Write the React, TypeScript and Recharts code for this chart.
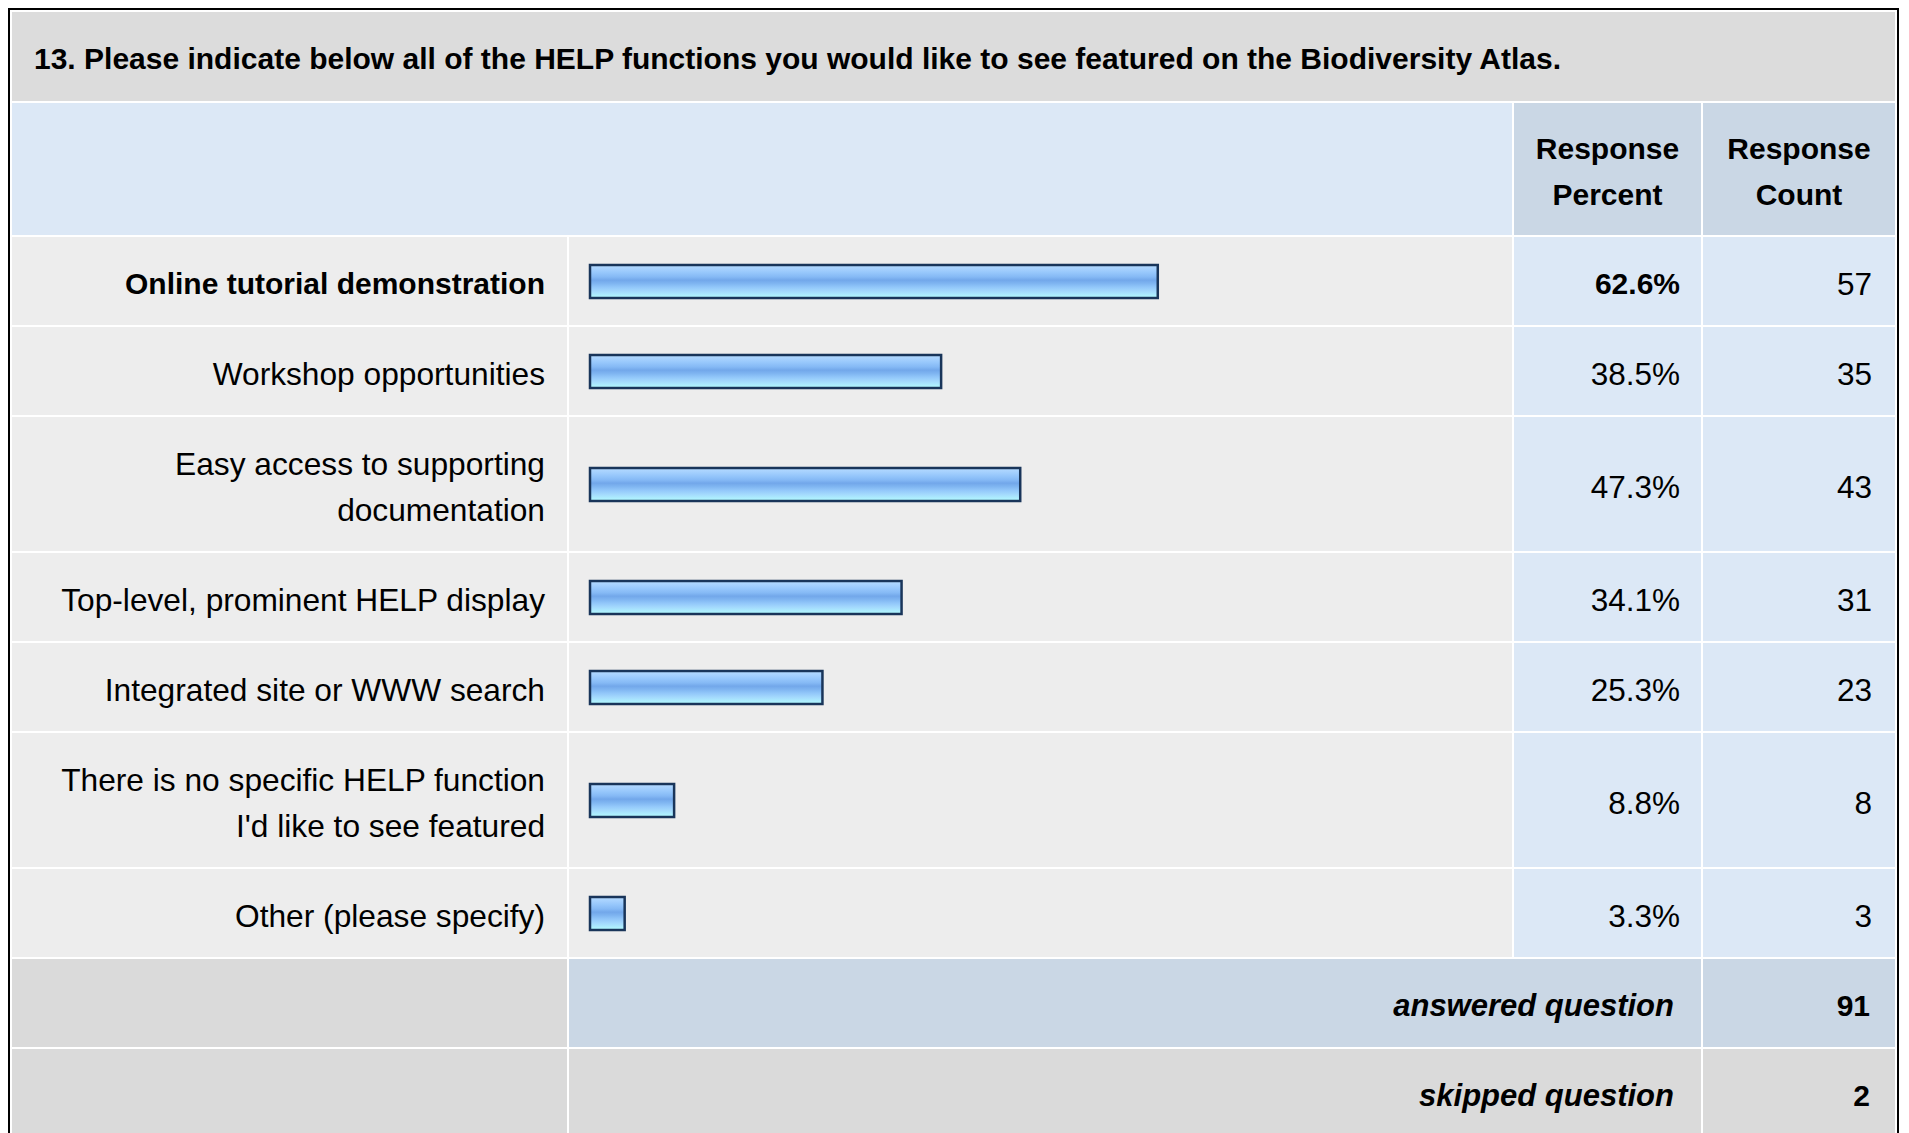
import React from "react";
import { BarChart, Bar, XAxis, YAxis } from "recharts";

const title =
  "13. Please indicate below all of the HELP functions you would like to see featured on the Biodiversity Atlas.";
const headerPercent = ["Response", "Percent"];
const headerCount = ["Response", "Count"];
const categories = [
  "Online tutorial demonstration",
  "Workshop opportunities",
  "Easy access to supporting\ndocumentation",
  "Top-level, prominent HELP display",
  "Integrated site or WWW search",
  "There is no specific HELP function\nI'd like to see featured",
  "Other (please specify)",
];
const percents = [62.6, 38.5, 47.3, 34.1, 25.3, 8.8, 3.3];
const counts = [57, 35, 43, 31, 23, 8, 3];
const answeredLabel = "answered question";
const answeredCount = 91;
const skippedLabel = "skipped question";
const skippedCount = 2;

const FONT = '"Liberation Sans", Arial, Helvetica, sans-serif';
const COLS = [555, 943, 187, 192];
const maxIdx = percents.indexOf(Math.max(...percents));

const C = {
  title: "#dcdcdc",
  headLight: "#dce8f6",
  headDark: "#cad7e5",
  body: "#ededed",
  bodyBlue: "#dce8f6",
  foot: "#dadada",
};

function rowHeight(label: string) {
  return label.includes("\n") ? 134 : 88;
}

const BAR_LEAD = 5;

function GradBar(props: any) {
  const { x, y, width, height, gid } = props;
  if (x == null || y == null) return null;
  return (
    <rect
      x={x - BAR_LEAD}
      y={y}
      width={Math.max(0, width + BAR_LEAD)}
      height={height}
      fill={`url(#${gid})`}
      stroke="#19355a"
      strokeWidth={2.5}
    />
  );
}

function BarCell({ idx, h }: { idx: number; h: number }) {
  const data = [{ name: categories[idx], value: percents[idx] }];
  const gid = `barGrad${idx}`;
  return (
    <BarChart
      width={COLS[1]}
      height={h}
      data={data}
      layout="vertical"
      margin={{ top: 0, right: 18, bottom: 0, left: 26 }}
    >
      <defs>
        <linearGradient id={gid} x1="0" y1="0" x2="0" y2="1">
          <stop offset="0%" stopColor="#b6dbff" />
          <stop offset="12%" stopColor="#a6d1fe" />
          <stop offset="24%" stopColor="#95c6fb" />
          <stop offset="36%" stopColor="#85b9f5" />
          <stop offset="46%" stopColor="#72a7ea" />
          <stop offset="56%" stopColor="#7fb5f1" />
          <stop offset="68%" stopColor="#93c8fa" />
          <stop offset="80%" stopColor="#a4dafd" />
          <stop offset="100%" stopColor="#b4fdff" />
        </linearGradient>
      </defs>
      <XAxis type="number" domain={[0, 100]} hide />
      <YAxis type="category" dataKey="name" hide />
      <Bar
        dataKey="value"
        barSize={33}
        fill={`url(#${gid})`}
        isAnimationActive={false}
        shape={(p: any) => <GradBar {...p} gid={gid} />}
      />
    </BarChart>
  );
}

const cellBase: React.CSSProperties = {
  display: "flex",
  alignItems: "center",
  boxSizing: "border-box",
  lineHeight: "46px",
  color: "#000",
  overflow: "hidden",
};

const textCell: React.CSSProperties = { ...cellBase, paddingTop: 5 };

export default function App() {
  const rowHeights = categories.map(rowHeight);
  const gridRows = [89, 132, ...rowHeights, 88, 88].map((h) => `${h}px`).join(" ");
  return (
    <div
      style={{
        width: 1883,
        border: "2px solid #000",
        padding: 2,
        background: "#fff",
        fontFamily: FONT,
      }}
    >
      <div
        style={{
          display: "grid",
          gridTemplateColumns: COLS.map((w) => `${w}px`).join(" "),
          gridTemplateRows: gridRows,
          gap: 2,
          background: "#fff",
        }}
      >
        <div
          style={{
            ...cellBase,
            gridColumn: "1 / span 4",
            background: C.title,
            paddingLeft: 22,
            paddingTop: 4,
            fontWeight: 700,
            fontSize: 30,
          }}
        >
          {title}
        </div>
        <div style={{ ...cellBase, gridColumn: "1 / span 2", background: C.headLight }} />
        <div
          style={{
            ...textCell,
            background: C.headDark,
            justifyContent: "center",
            textAlign: "center",
            fontWeight: 700,
            fontSize: 30,
          }}
        >
          <div>
            {headerPercent.map((t) => (
              <div key={t}>{t}</div>
            ))}
          </div>
        </div>
        <div
          style={{
            ...textCell,
            background: C.headDark,
            justifyContent: "center",
            textAlign: "center",
            fontWeight: 700,
            fontSize: 30,
          }}
        >
          <div>
            {headerCount.map((t) => (
              <div key={t}>{t}</div>
            ))}
          </div>
        </div>
        {categories.map((cat, i) => {
          const bold = i === maxIdx;
          return (
            <React.Fragment key={cat}>
              <div
                style={{
                  ...textCell,
                  background: C.body,
                  justifyContent: "flex-end",
                  textAlign: "right",
                  paddingRight: 22,
                  whiteSpace: "pre-line",
                  fontWeight: bold ? 700 : 400,
                  fontSize: bold ? 30 : 31.7,
                }}
              >
                {cat}
              </div>
              <div style={{ ...cellBase, background: C.body }}>
                <BarCell idx={i} h={rowHeights[i]} />
              </div>
              <div
                style={{
                  ...textCell,
                  background: C.bodyBlue,
                  justifyContent: "flex-end",
                  paddingRight: 21,
                  fontWeight: bold ? 700 : 400,
                  fontSize: bold ? 30 : 31.5,
                }}
              >
                {percents[i].toFixed(1)}%
              </div>
              <div
                style={{
                  ...textCell,
                  background: C.bodyBlue,
                  justifyContent: "flex-end",
                  paddingRight: 23,
                  fontSize: 31.5,
                }}
              >
                {counts[i]}
              </div>
            </React.Fragment>
          );
        })}
        <div style={{ ...cellBase, background: C.foot }} />
        <div
          style={{
            ...textCell,
            gridColumn: "2 / span 2",
            background: C.headDark,
            justifyContent: "flex-end",
            paddingRight: 27,
            fontWeight: 700,
            fontStyle: "italic",
            fontSize: 31,
          }}
        >
          {answeredLabel}
        </div>
        <div
          style={{
            ...textCell,
            background: C.headDark,
            justifyContent: "flex-end",
            paddingRight: 25,
            fontWeight: 700,
            fontSize: 30,
          }}
        >
          {answeredCount}
        </div>
        <div style={{ ...cellBase, background: C.foot }} />
        <div
          style={{
            ...textCell,
            gridColumn: "2 / span 2",
            background: C.foot,
            justifyContent: "flex-end",
            paddingRight: 27,
            fontWeight: 700,
            fontStyle: "italic",
            fontSize: 31,
          }}
        >
          {skippedLabel}
        </div>
        <div
          style={{
            ...textCell,
            background: C.foot,
            justifyContent: "flex-end",
            paddingRight: 25,
            fontWeight: 700,
            fontSize: 30,
          }}
        >
          {skippedCount}
        </div>
      </div>
    </div>
  );
}
